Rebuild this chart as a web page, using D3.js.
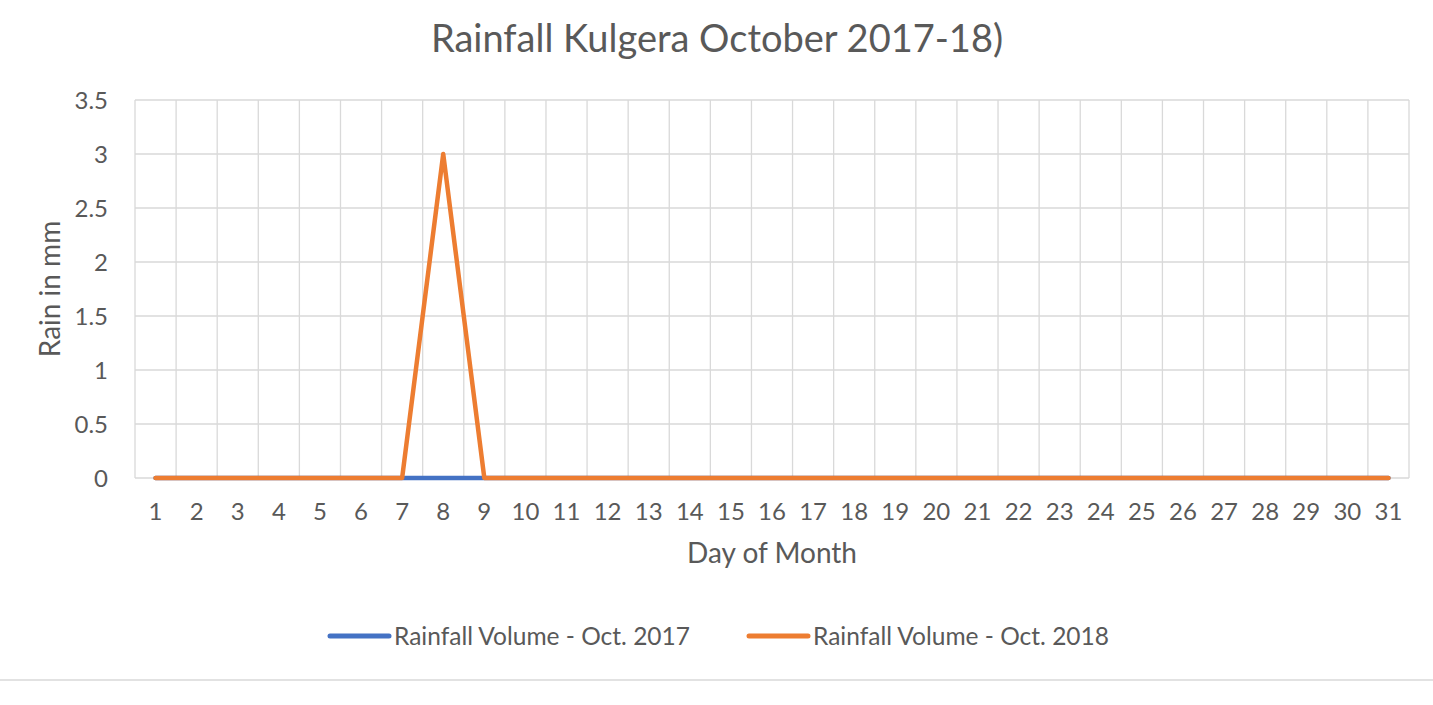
<!DOCTYPE html>
<html><head><meta charset="utf-8">
<script src="https://cdn.jsdelivr.net/npm/d3@7"></script>
<style>body{margin:0;background:#fff;}svg{display:block;font-family:Lato,"Open Sans",sans-serif;}</style>
</head><body>
<svg id="c" width="1433" height="705"></svg>
<script>
const days = d3.range(1, 32).map(String);
const rain2017 = [0,0,0,0,0,0,0,0,0,0,0,0,0,0,0,0,0,0,0,0,0,0,0,0,0,0,0,0,0,0,0];
const rain2018 = [0,0,0,0,0,0,0,3,0,0,0,0,0,0,0,0,0,0,0,0,0,0,0,0,0,0,0,0,0,0,0];
const yTicks = [0,0.5,1,1.5,2,2.5,3,3.5];
const seriesNames = ["Rainfall Volume - Oct. 2017","Rainfall Volume - Oct. 2018"];
const colors = ["#4472c4","#ed7d31"];

const svg = d3.select("#c");
const L=135, R=1409, T=100, B=478;
const x = d3.scaleBand().domain(days).range([L,R]);
const y = d3.scaleLinear().domain([0,3.5]).range([B,T]);
const grid="#d9d9d9", txt="#595959";

svg.append("g").selectAll("line").data(yTicks).join("line")
  .attr("x1",L).attr("x2",R).attr("y1",d=>y(d)).attr("y2",d=>y(d))
  .attr("stroke",grid).attr("stroke-width",1.3);
const bounds = days.map(d=>x(d)).concat([R]);
svg.append("g").selectAll("line").data(bounds).join("line")
  .attr("x1",d=>d).attr("x2",d=>d).attr("y1",T).attr("y2",B)
  .attr("stroke",grid).attr("stroke-width",1.3);

svg.append("g").selectAll("text").data(yTicks).join("text")
  .attr("x",L-27).attr("y",d=>y(d)).attr("dy","0.36em").attr("text-anchor","end")
  .attr("fill",txt).attr("font-size",24).text(d=>d);
svg.append("g").selectAll("text").data(days).join("text")
  .attr("x",d=>x(d)+x.bandwidth()/2).attr("y",B+42).attr("text-anchor","middle")
  .attr("fill",txt).attr("font-size",24).text(d=>d);

const line = d3.line().x((v,i)=>x(days[i])+x.bandwidth()/2).y(v=>y(v));
[rain2017,rain2018].forEach((s,i)=>{
  svg.append("path").attr("d",line(s)).attr("fill","none").attr("stroke",colors[i])
    .attr("stroke-width",4.5).attr("stroke-linecap","round").attr("stroke-linejoin","round");
});

svg.append("text").attr("x",717).attr("y",52).attr("text-anchor","middle")
  .attr("fill",txt).attr("font-size",38).text("Rainfall Kulgera October 2017-18)");
svg.append("text").attr("x",772).attr("y",563).attr("text-anchor","middle")
  .attr("fill",txt).attr("font-size",28).text("Day of Month");
svg.append("text").attr("transform","translate(60,289) rotate(-90)").attr("text-anchor","middle")
  .attr("fill",txt).attr("font-size",28).text("Rain in mm");

const legX=[330,749];
seriesNames.forEach((n,i)=>{
  svg.append("line").attr("x1",legX[i]).attr("x2",legX[i]+59).attr("y1",636).attr("y2",636)
    .attr("stroke",colors[i]).attr("stroke-width",5).attr("stroke-linecap","round");
  svg.append("text").attr("x",legX[i]+64).attr("y",636).attr("dy","0.36em")
    .attr("fill",txt).attr("font-size",24.5).text(n);
});
svg.append("line").attr("x1",0).attr("x2",1433).attr("y1",680).attr("y2",680).attr("stroke",grid).attr("stroke-width",1.5);
</script>
</body></html>
